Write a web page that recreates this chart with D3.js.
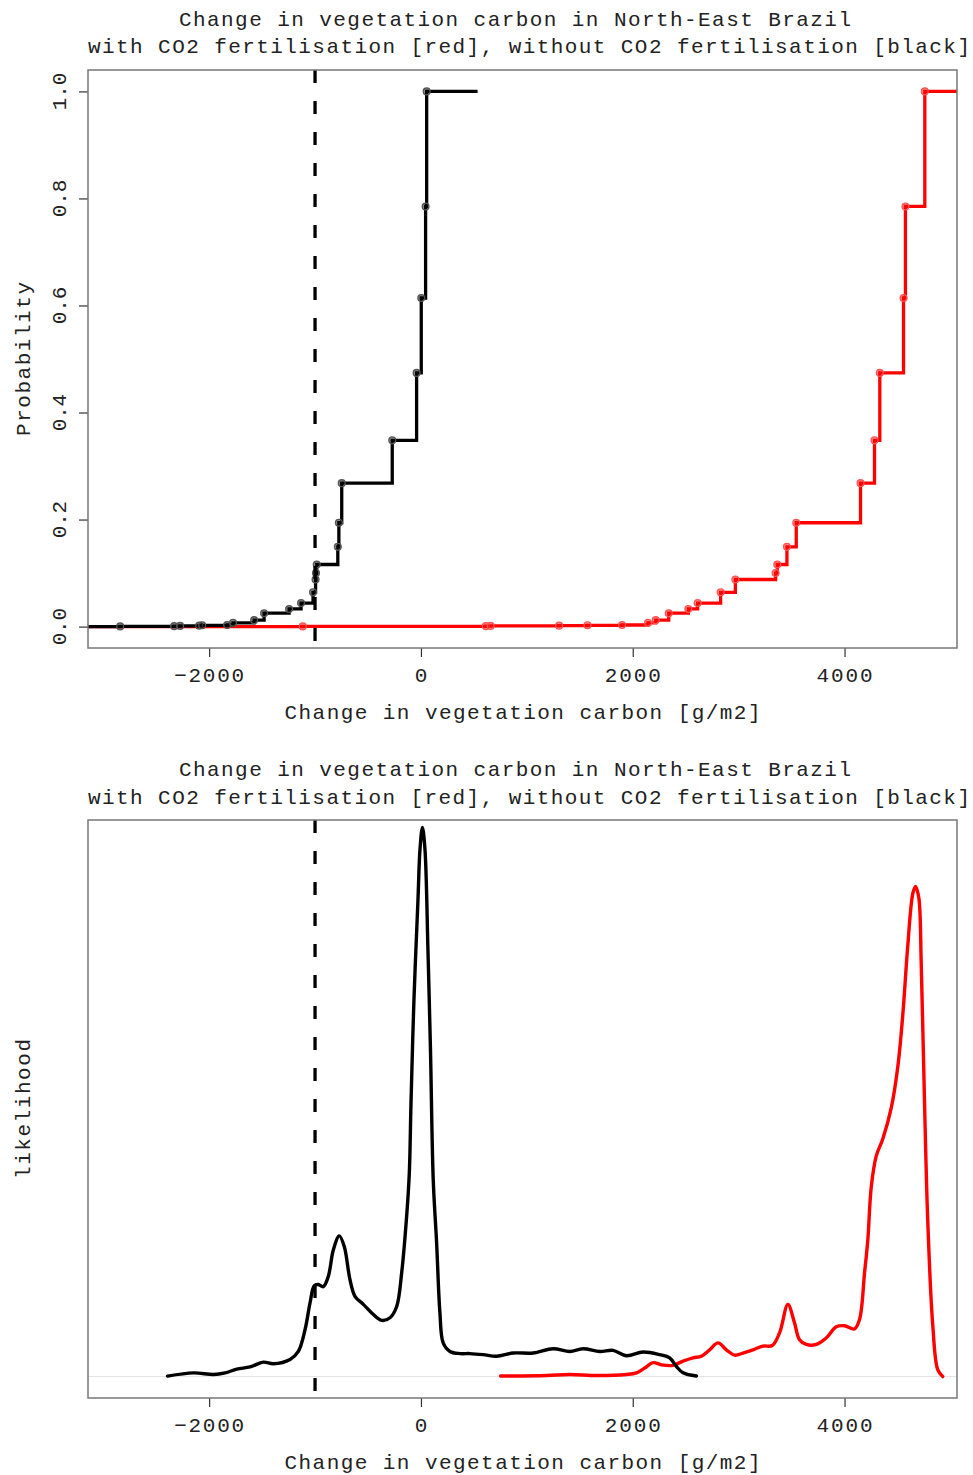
<!DOCTYPE html>
<html>
<head>
<meta charset="utf-8">
<script src="https://cdn.jsdelivr.net/npm/d3@7"></script>
<style>
  html, body { margin: 0; padding: 0; background: #fff; }
  svg { display: block; }
  text { font-family: "Liberation Mono", "DejaVu Sans Mono", monospace; fill: #222; }
</style>
</head>
<body>
<svg id="chart" width="973" height="1475"></svg>
<script>
// ---- data -------------------------------------------------------------
const titleLines = [
  "Change in vegetation carbon in North-East Brazil",
  "with CO2 fertilisation [red], without CO2 fertilisation [black]"
];
const xLabel = "Change in vegetation carbon [g/m2]";
const xTicks = [-2000, 0, 2000, 4000];
const probTicks = [0, 0.2, 0.4, 0.6, 0.8, 1.0];
const probTickLabels = ["0.0", "0.2", "0.4", "0.6", "0.8", "1.0"];

// weighted cumulative probability after each sorted ensemble member
const cumProb = [0.0004, 0.0008, 0.0013, 0.0018, 0.0024, 0.003, 0.007, 0.012,
  0.025, 0.033, 0.044, 0.064, 0.088, 0.100, 0.116, 0.149, 0.194, 0.268,
  0.348, 0.474, 0.614, 0.785, 1.0];

// sorted ensemble values, without CO2 fertilisation (black)
const noCo2Values = [-2840, -2330, -2274, -2094, -2066, -1830, -1774, -1575,
  -1481, -1245, -1132, -1019, -995, -991, -984, -785, -775, -748,
  -271, -41, 3, 44, 54];
// sorted ensemble values, with CO2 fertilisation (red)
const co2Values = [-1116, 613, 658, 1305, 1573, 1899, 2144, 2217,
  2340, 2525, 2613, 2830, 2969, 3349, 3365, 3456, 3544, 4151,
  4283, 4333, 4557, 4575, 4758];
const noCo2StepEnd = 535;     // right end of the black step function
const threshold = -1000;      // dashed reference line

// smoothed likelihood curves (relative units)
const densNoCo2X = [-2393, -2148, -1959, -1849, -1739, -1613, -1488, -1393, -1236,
  -1158, -1094, -1047, -1007, -969, -922, -875, -827, -771, -724, -670, -623,
  -544, -465, -371, -292, -229, -182, -135, -110, -94, -66, -28, -9, 14, 38, 66,
  90, 116, 148, 179, 210, 274, 368, 462, 588, 714, 871, 1059, 1248, 1406, 1531,
  1689, 1814, 1941, 2097, 2255, 2349, 2412, 2475, 2601];
const densNoCo2Y = [0.001, 0.007, 0.004, 0.007, 0.014, 0.018, 0.027, 0.024, 0.032,
  0.047, 0.088, 0.138, 0.170, 0.172, 0.168, 0.187, 0.237, 0.263, 0.243, 0.181, 0.150,
  0.135, 0.119, 0.105, 0.110, 0.131, 0.194, 0.300, 0.380, 0.510, 0.704, 0.891, 0.985, 1.026, 0.985, 0.798,
  0.611, 0.368, 0.250, 0.120, 0.063, 0.047, 0.043, 0.043, 0.041, 0.038, 0.044, 0.044, 0.052, 0.047, 0.052,
  0.047, 0.049, 0.039, 0.046, 0.041, 0.035, 0.019, 0.007, 0.001];

const densCo2X = [752, 1186, 1406, 1658, 1941, 2035, 2113, 2192, 2271, 2380, 2475,
  2569, 2648, 2726, 2805, 2884, 2962, 3041, 3135, 3229, 3318, 3387, 3465, 3528,
  3575, 3639, 3733, 3827, 3922, 4000, 4094, 4142, 4189, 4220, 4252, 4299, 4361,
  4441, 4503, 4550, 4597, 4644, 4670, 4701, 4724, 4755, 4786, 4833, 4880, 4927];
const densCo2Y = [0.001, 0.002, 0.004, 0.002, 0.004, 0.007, 0.016, 0.026, 0.022, 0.021, 0.029,
  0.035, 0.038, 0.050, 0.063, 0.050, 0.040, 0.044, 0.050, 0.057, 0.058, 0.082, 0.135, 0.100,
  0.069, 0.060, 0.060, 0.072, 0.093, 0.095, 0.089, 0.107, 0.194, 0.256, 0.354, 0.412, 0.444,
  0.502, 0.579, 0.676, 0.805, 0.902, 0.916, 0.895, 0.773, 0.515, 0.290, 0.096, 0.013, 0.0];
const densLimits = [0, 1];

// ---- layout -----------------------------------------------------------
const svg = d3.select("#chart");
const charW = 14;
const plotLeft = 88, plotRight = 957;
const panels = [
  { top: 70, bottom: 648, titleY: [26, 53] },
  { top: 820, bottom: 1398, titleY: [776, 804] }
];

// R-style axis limits: data range extended by 4% on each side
function padded([a, b]) { const p = (b - a) * 0.04; return [a - p, b + p]; }

const xDomain = padded([d3.min(noCo2Values.concat(co2Values)), d3.max(noCo2Values.concat(co2Values))]);

function monoText(g, str, x, y, opts = {}) {
  const t = g.append("text")
    .attr("x", x).attr("y", y)
    .attr("font-size", opts.size || 21)
    .attr("text-anchor", "middle")
    .attr("textLength", str.length * (opts.cw || charW))
    .attr("lengthAdjust", "spacing")
    .text(str);
  if (opts.rotate) t.attr("transform", `rotate(-90,${x},${y})`);
  return t;
}

function drawFrame(p) {
  const g = svg.append("g");
  const x = d3.scaleLinear().domain(xDomain).range([plotLeft, plotRight]);
  // titles
  monoText(g, titleLines[0], 515, p.titleY[0]);
  monoText(g, titleLines[1], 529, p.titleY[1]);
  // x axis ticks and labels
  const axisG = g.append("g").attr("transform", `translate(0,${p.bottom})`);
  axisG.call(d3.axisBottom(x).tickValues(xTicks).tickSize(9).tickFormat(""))
    .call(s => s.select(".domain").remove())
    .call(s => s.selectAll(".tick line").attr("stroke", "#333").attr("stroke-width", 1.2));
  xTicks.forEach(v => {
    const lbl = v < 0 ? "\u2212" + Math.abs(v) : String(v);
    monoText(g, lbl, x(v), p.bottom + 34);
  });
  monoText(g, xLabel, (plotLeft + plotRight) / 2, p.bottom + 71);
  return { g, x };
}

// ---- top panel: cumulative probability ---------------------------------
{
  const p = panels[0];
  const { g, x } = drawFrame(p);
  const y = d3.scaleLinear().domain(padded([0, 1])).range([p.bottom, p.top]);

  const yAxisG = g.append("g").attr("transform", `translate(${plotLeft},0)`);
  yAxisG.call(d3.axisLeft(y).tickValues(probTicks).tickSize(9).tickFormat(""))
    .call(s => s.select(".domain").remove())
    .call(s => s.selectAll(".tick line").attr("stroke", "#333").attr("stroke-width", 1.2));
  probTicks.forEach((v, i) => monoText(g, probTickLabels[i], 66, y(v), { rotate: true, cw: 12.5 }));
  monoText(g, "Probability", 30, (p.top + p.bottom) / 2, { rotate: true });

  const clipId = "clipTop";
  g.append("clipPath").attr("id", clipId).append("rect")
    .attr("x", plotLeft).attr("y", p.top).attr("width", plotRight - plotLeft).attr("height", p.bottom - p.top);
  const plotG = g.append("g").attr("clip-path", `url(#${clipId})`);

  const step = d3.line().x(d => x(d[0])).y(d => y(d[1])).curve(d3.curveStepAfter);
  const series = [
    { vals: co2Values, color: "#ff0000", end: xDomain[1] + 100 },
    { vals: noCo2Values, color: "#000000", end: noCo2StepEnd }
  ];
  series.forEach(s => {
    const pts = [[xDomain[0] - 100, 0]].concat(s.vals.map((v, i) => [v, cumProb[i]]), [[s.end, 1]]);
    plotG.append("path").attr("d", step(pts))
      .attr("fill", "none").attr("stroke", s.color).attr("stroke-width", 3.3);
    plotG.selectAll(null).data(s.vals).enter().append("circle")
      .attr("cx", d => x(d)).attr("cy", (d, i) => y(cumProb[i])).attr("r", 3.4)
      .attr("fill", s.color).attr("fill-opacity", 0.45)
      .attr("stroke", s.color === "#000000" ? "#555" : "#ff5555").attr("stroke-width", 1.3);
  });
  plotG.append("line")
    .attr("x1", x(threshold)).attr("x2", x(threshold)).attr("y1", p.top).attr("y2", p.bottom)
    .attr("stroke", "#000").attr("stroke-width", 3.3).attr("stroke-dasharray", "13,18");

  g.append("rect").attr("x", plotLeft).attr("y", p.top)
    .attr("width", plotRight - plotLeft).attr("height", p.bottom - p.top)
    .attr("fill", "none").attr("stroke", "#777").attr("stroke-width", 1.5);
}

// ---- bottom panel: likelihood curves -----------------------------------
{
  const p = panels[1];
  const { g, x } = drawFrame(p);
  const y = d3.scaleLinear().domain(padded(densLimits)).range([p.bottom, p.top]);
  monoText(g, "likelihood", 30, (p.top + p.bottom) / 2, { rotate: true });

  g.append("line").attr("x1", plotLeft).attr("x2", plotRight)
    .attr("y1", y(0)).attr("y2", y(0)).attr("stroke", "#e2e2e2").attr("stroke-width", 1);

  const line = d3.line().x(d => x(d[0])).y(d => y(d[1])).curve(d3.curveCatmullRom.alpha(0.5));
  const curves = [
    { xs: densCo2X, ys: densCo2Y, color: "#ff0000" },
    { xs: densNoCo2X, ys: densNoCo2Y, color: "#000000" }
  ];
  curves.forEach(c => {
    g.append("path").attr("d", line(c.xs.map((v, i) => [v, c.ys[i]])))
      .attr("fill", "none").attr("stroke", c.color).attr("stroke-width", 3.4)
      .attr("stroke-linejoin", "round").attr("stroke-linecap", "round");
  });
  g.append("line")
    .attr("x1", x(threshold)).attr("x2", x(threshold)).attr("y1", p.top).attr("y2", p.bottom)
    .attr("stroke", "#000").attr("stroke-width", 3.3).attr("stroke-dasharray", "13,18");

  g.append("rect").attr("x", plotLeft).attr("y", p.top)
    .attr("width", plotRight - plotLeft).attr("height", p.bottom - p.top)
    .attr("fill", "none").attr("stroke", "#777").attr("stroke-width", 1.5);
}
</script>
</body>
</html>
